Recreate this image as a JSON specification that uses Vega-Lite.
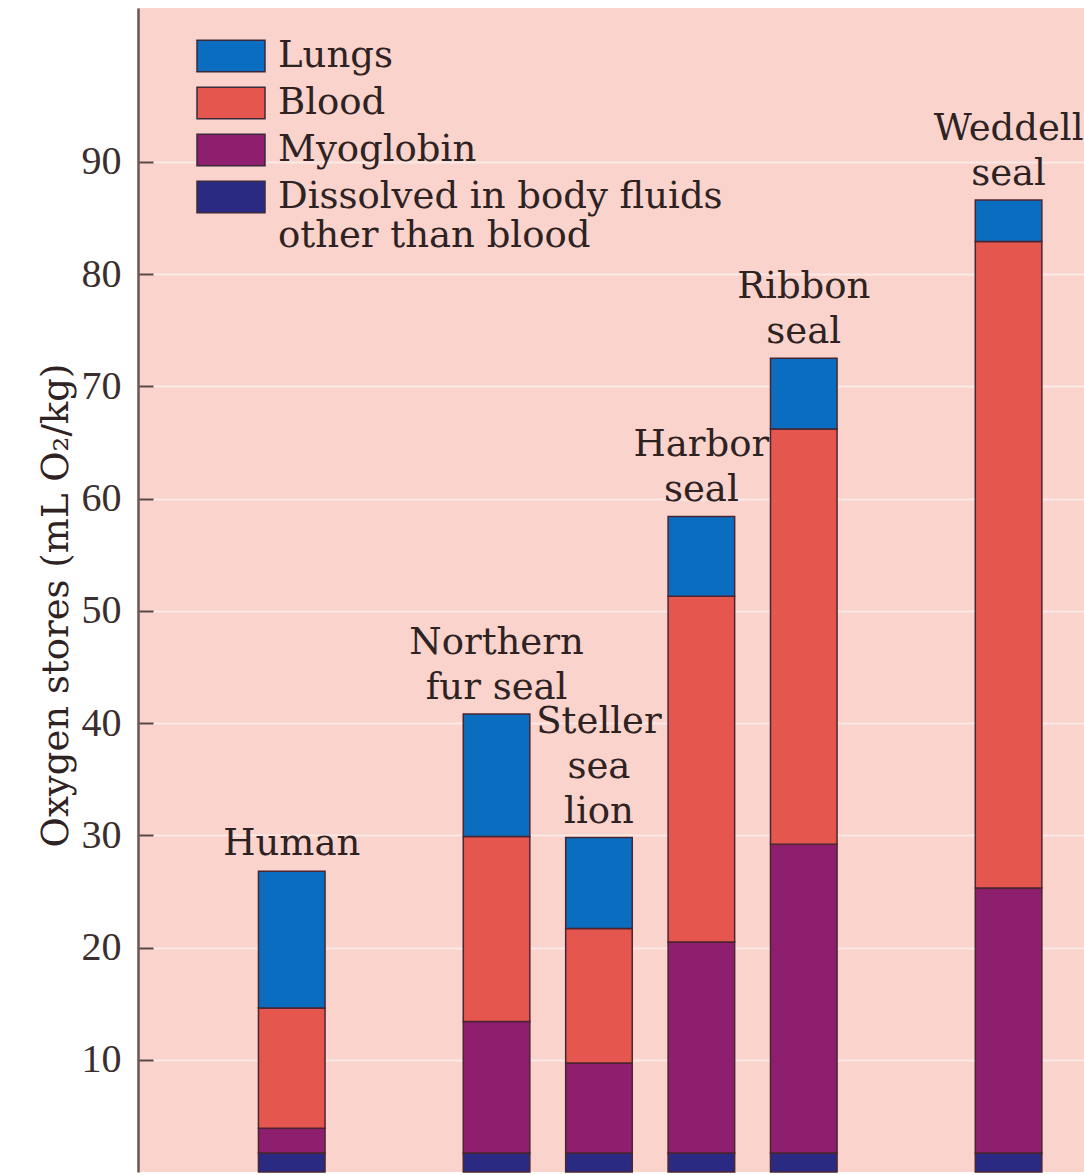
{
  "$schema": "https://vega.github.io/schema/vega-lite/v6.json",
  "width": 946,
  "height": 1164,
  "autosize": {"type": "none"},
  "padding": {"left": 138, "top": 8, "right": 0, "bottom": 3},
  "background": "#FFFFFF",
  "config": {
    "view": {"fill": "#F9D3CC", "stroke": null},
    "font": "DejaVu Serif"
  },
  "datasets": {
    "stores": [
      {"animal": "Human", "store": "Dissolved in body fluids other than blood", "ord": 1, "value": 1.7},
      {"animal": "Human", "store": "Myoglobin", "ord": 2, "value": 2.2},
      {"animal": "Human", "store": "Blood", "ord": 3, "value": 10.7},
      {"animal": "Human", "store": "Lungs", "ord": 4, "value": 12.2},
      {"animal": "Northern fur seal", "store": "Dissolved in body fluids other than blood", "ord": 1, "value": 1.7},
      {"animal": "Northern fur seal", "store": "Myoglobin", "ord": 2, "value": 11.7},
      {"animal": "Northern fur seal", "store": "Blood", "ord": 3, "value": 16.5},
      {"animal": "Northern fur seal", "store": "Lungs", "ord": 4, "value": 10.9},
      {"animal": "Steller sea lion", "store": "Dissolved in body fluids other than blood", "ord": 1, "value": 1.7},
      {"animal": "Steller sea lion", "store": "Myoglobin", "ord": 2, "value": 8.0},
      {"animal": "Steller sea lion", "store": "Blood", "ord": 3, "value": 12.0},
      {"animal": "Steller sea lion", "store": "Lungs", "ord": 4, "value": 8.1},
      {"animal": "Harbor seal", "store": "Dissolved in body fluids other than blood", "ord": 1, "value": 1.7},
      {"animal": "Harbor seal", "store": "Myoglobin", "ord": 2, "value": 18.8},
      {"animal": "Harbor seal", "store": "Blood", "ord": 3, "value": 30.8},
      {"animal": "Harbor seal", "store": "Lungs", "ord": 4, "value": 7.1},
      {"animal": "Ribbon seal", "store": "Dissolved in body fluids other than blood", "ord": 1, "value": 1.7},
      {"animal": "Ribbon seal", "store": "Myoglobin", "ord": 2, "value": 27.5},
      {"animal": "Ribbon seal", "store": "Blood", "ord": 3, "value": 37.0},
      {"animal": "Ribbon seal", "store": "Lungs", "ord": 4, "value": 6.3},
      {"animal": "Weddell seal", "store": "Dissolved in body fluids other than blood", "ord": 1, "value": 1.7},
      {"animal": "Weddell seal", "store": "Myoglobin", "ord": 2, "value": 23.6},
      {"animal": "Weddell seal", "store": "Blood", "ord": 3, "value": 57.6},
      {"animal": "Weddell seal", "store": "Lungs", "ord": 4, "value": 3.7}
    ],
    "labels": [
      {"animal": "Human", "label": "Human"},
      {"animal": "Northern fur seal", "label": "Northern|fur seal"},
      {"animal": "Steller sea lion", "label": "Steller|sea|lion"},
      {"animal": "Harbor seal", "label": "Harbor|seal"},
      {"animal": "Ribbon seal", "label": "Ribbon|seal"},
      {"animal": "Weddell seal", "label": "Weddell|seal"}
    ]
  },
  "data": {"name": "stores"},
  "layer": [
    {
      "mark": {"type": "bar", "stroke": "#4a2530", "strokeWidth": 1.5},
      "encoding": {
        "x": {
          "field": "animal",
          "type": "nominal",
          "scale": {
            "domain": ["_a", "Human", "_b", "Northern fur seal", "Steller sea lion", "Harbor seal", "Ribbon seal", "_c", "Weddell seal"],
            "paddingInner": 0.35,
            "paddingOuter": 0.294,
            "align": 0.3
          },
          "axis": null
        },
        "y": {
          "field": "value",
          "type": "quantitative",
          "stack": "zero",
          "title": "Oxygen stores (mL O₂/kg)",
          "scale": {"domain": [0, 103.7], "nice": false, "zero": true},
          "axis": {
            "values": [10, 20, 30, 40, 50, 60, 70, 80, 90],
            "grid": true,
            "gridColor": "#FFFFFF",
            "gridOpacity": 0.5,
            "gridWidth": 2,
            "domainColor": "#6b5555",
            "domainWidth": 2.5,
            "tickSize": -15,
            "tickColor": "#5a4545",
            "tickWidth": 2,
            "labelFont": "Liberation Serif",
            "labelFontSize": 40,
            "labelColor": "#3a2e2e",
            "labelPadding": 32,
            "titleFont": "DejaVu Serif",
            "titleFontSize": 37,
            "titleFontWeight": "normal",
            "titleColor": "#2e2222",
            "titlePadding": 6,
            "titleY": 597
          }
        },
        "color": {
          "field": "store",
          "type": "nominal",
          "scale": {
            "domain": ["Lungs", "Blood", "Myoglobin", "Dissolved in body fluids other than blood"],
            "range": ["#0b6dbf", "#e5564f", "#8e1f6e", "#2b2a82"]
          },
          "legend": {
            "orient": "none",
            "legendX": 58,
            "legendY": 28,
            "title": null,
            "padding": 0,
            "symbolType": "M-1,-0.46H1V0.46H-1Z",
            "symbolSize": 4624,
            "symbolStrokeColor": "#3a2a3a",
            "symbolStrokeWidth": 1.5,
            "symbolOpacity": 1,
            "clipHeight": 40,
            "rowPadding": 7,
            "labelFont": "DejaVu Serif",
            "labelFontSize": 37,
            "labelColor": "#2e2222",
            "labelOffset": 12,
            "labelLimit": 700,
            "labelExpr": "datum.label == 'Dissolved in body fluids other than blood' ? ['Dissolved in body fluids', 'other than blood'] : datum.label"
          }
        },
        "order": {"field": "ord", "type": "quantitative"}
      }
    },
    {
      "transform": [
        {"aggregate": [{"op": "sum", "field": "value", "as": "total"}], "groupby": ["animal"]},
        {"lookup": "animal", "from": {"data": {"name": "labels"}, "key": "animal", "fields": ["label"]}},
        {"filter": {"field": "animal", "oneOf": ["Human"]}}
      ],
      "mark": {"type": "text", "baseline": "bottom", "dy": -8, "fontSize": 37, "lineBreak": "|", "lineHeight": 45, "color": "#2e2222", "font": "DejaVu Serif"},
      "encoding": {
        "x": {"field": "animal", "type": "nominal"},
        "y": {"field": "total", "type": "quantitative", "title": "Oxygen stores (mL O₂/kg)"},
        "text": {"field": "label"}
      }
    },
    {
      "transform": [
        {"aggregate": [{"op": "sum", "field": "value", "as": "total"}], "groupby": ["animal"]},
        {"lookup": "animal", "from": {"data": {"name": "labels"}, "key": "animal", "fields": ["label"]}},
        {"filter": {"field": "animal", "oneOf": ["Northern fur seal", "Harbor seal", "Ribbon seal", "Weddell seal"]}}
      ],
      "mark": {"type": "text", "baseline": "bottom", "dy": -52, "fontSize": 37, "lineBreak": "|", "lineHeight": 45, "color": "#2e2222", "font": "DejaVu Serif"},
      "encoding": {
        "x": {"field": "animal", "type": "nominal"},
        "y": {"field": "total", "type": "quantitative", "title": "Oxygen stores (mL O₂/kg)"},
        "text": {"field": "label"}
      }
    },
    {
      "transform": [
        {"aggregate": [{"op": "sum", "field": "value", "as": "total"}], "groupby": ["animal"]},
        {"lookup": "animal", "from": {"data": {"name": "labels"}, "key": "animal", "fields": ["label"]}},
        {"filter": {"field": "animal", "oneOf": ["Steller sea lion"]}}
      ],
      "mark": {"type": "text", "baseline": "bottom", "dy": -97, "fontSize": 37, "lineBreak": "|", "lineHeight": 45, "color": "#2e2222", "font": "DejaVu Serif"},
      "encoding": {
        "x": {"field": "animal", "type": "nominal"},
        "y": {"field": "total", "type": "quantitative", "title": "Oxygen stores (mL O₂/kg)"},
        "text": {"field": "label"}
      }
    }
  ]
}
